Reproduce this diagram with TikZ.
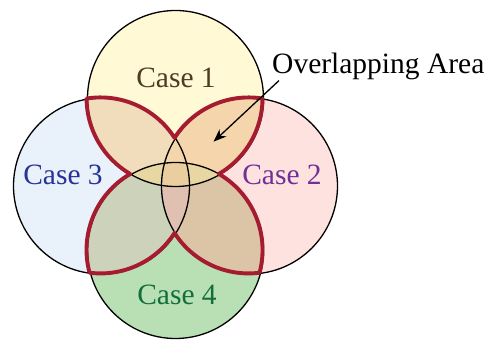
\documentclass[tikz,border=0pt]{standalone}
\usepackage{fontspec}
\setmainfont{Liberation Serif}
\usetikzlibrary{arrows.meta}

\definecolor{fillone}{RGB}{255,249,213}
\definecolor{filltwo}{RGB}{253,226,224}
\definecolor{fillthree}{RGB}{233,242,250}
\definecolor{fillfour}{RGB}{185,224,180}
\definecolor{fillnw}{RGB}{241,221,187}
\definecolor{fillne}{RGB}{245,213,172}
\definecolor{fillsw}{RGB}{205,210,186}
\definecolor{fillse}{RGB}{220,196,166}
\definecolor{fillvert}{RGB}{224,192,176}
\definecolor{fillhoriz}{RGB}{232,215,162}
\definecolor{fillmid}{RGB}{234,206,160}
\definecolor{overlapred}{RGB}{165,28,48}
\definecolor{textone}{RGB}{77,60,35}
\definecolor{texttwo}{RGB}{112,48,150}
\definecolor{textthree}{RGB}{40,50,150}
\definecolor{textfour}{RGB}{20,110,60}

\begin{document}
\begin{tikzpicture}[x=1pt, y=1pt,
		casecircle/.style={circle, minimum size=176pt, inner sep=0pt, outer sep=0pt},
		rim/.style={draw=black, line width=1.3pt},
		overlap/.style={draw=overlapred, line width=3.9pt, line join=round, line cap=round},
		caselabel/.style={font=\fontsize{29.5}{34}\selectfont, anchor=base, inner sep=0pt}]
	\useasboundingbox (0,0) rectangle (495,345);

	\node[casecircle, fill=fillone] (T) at (175.5,246.5) {};
	\node[casecircle, fill=fillthree] (L) at (101.5,159) {};
	\node[casecircle, fill=filltwo] (R) at (249.5,159) {};
	\node[casecircle, fill=fillfour] (B) at (175.5,94.5) {};

	% pairwise overlaps
	\begin{scope}
		\clip (T.center) circle[radius=88pt];
		\fill[fillnw] (L.center) circle[radius=88pt];
		\fill[fillne] (R.center) circle[radius=88pt];
	\end{scope}
	\begin{scope}
		\clip (B.center) circle[radius=88pt];
		\fill[fillsw] (L.center) circle[radius=88pt];
		\fill[fillse] (R.center) circle[radius=88pt];
	\end{scope}
	\begin{scope}
		\clip (L.center) circle[radius=88pt];
		\clip (R.center) circle[radius=88pt];
		\fill[fillvert] (B.center) circle[radius=88pt];
	\end{scope}
	\begin{scope}
		\clip (T.center) circle[radius=88pt];
		\fill[fillhoriz] (B.center) circle[radius=88pt];
		\clip (B.center) circle[radius=88pt];
		\clip (L.center) circle[radius=88pt];
		\fill[fillmid] (R.center) circle[radius=88pt];
	\end{scope}

	\draw[rim] (T.center) circle[radius=88pt];
	\draw[rim] (L.center) circle[radius=88pt];
	\draw[rim] (R.center) circle[radius=88pt];
	\draw[rim] (B.center) circle[radius=88pt];

	% outline of the overlapping area
	\draw[overlap] (T.239.73) arc[start angle=239.73, end angle=180.41, radius=88pt]
		arc[start angle=99.15, end angle=32.75, radius=88pt]
		arc[start angle=147.25, end angle=80.85, radius=88pt]
		arc[start angle=-0.41, end angle=-59.73, radius=88pt]
		arc[start angle=59.73, end angle=-15.02, radius=88pt]
		arc[start angle=-82.82, end angle=-147.25, radius=88pt]
		arc[start angle=-32.75, end angle=-97.18, radius=88pt]
		arc[start angle=195.02, end angle=120.27, radius=88pt] -- cycle;

	\node[caselabel, text=textone] (case1) at (176,257) {Case 1};
	\node[caselabel, text=texttwo] (case2) at (282,160) {Case 2};
	\node[caselabel, text=textthree] (case3) at (63,160) {Case 3};
	\node[caselabel, text=textfour] (case4) at (177,40) {Case 4};

	\node[caselabel, anchor=base west] (ovlabel) at (272,271) {Overlapping Area};
	\coordinate (ovtip) at (213.5,203.3);
	\draw[line width=1.3pt, -{Stealth[length=13pt, width=10pt]}] ([xshift=7pt]ovlabel.south west) -- (ovtip);
\end{tikzpicture}
\end{document}
